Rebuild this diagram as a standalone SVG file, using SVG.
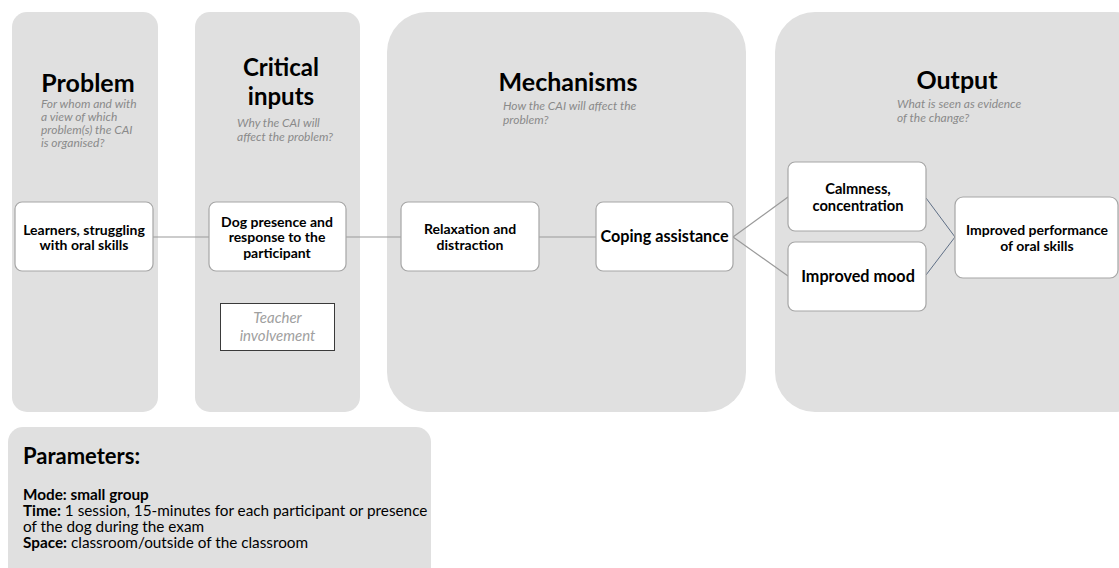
<svg xmlns="http://www.w3.org/2000/svg" width="1119" height="568" viewBox="0 0 1119 568">
<style>
.panel{fill:#e0e0e0;}
.box{fill:#ffffff;stroke:#a6a6a6;stroke-width:1.2;}
.title{font-family:Lato,"Liberation Sans",sans-serif;font-weight:bold;font-size:25px;fill:#000;text-anchor:middle;}
.sub{font-family:Lato,"Liberation Sans",sans-serif;font-style:italic;font-size:12px;fill:#8a8a8a;}
.nt{font-family:Lato,"Liberation Sans",sans-serif;font-weight:bold;font-size:14px;fill:#000;text-anchor:middle;}
.nl{font-family:Lato,"Liberation Sans",sans-serif;font-weight:bold;font-size:16.2px;fill:#000;text-anchor:middle;}
.conn{stroke:#9a9a9a;stroke-width:1.2;fill:none;}
.conn2{stroke:#5f6f86;stroke-width:1;fill:none;}
.pt{font-family:Lato,"Liberation Sans",sans-serif;font-size:15.3px;fill:#000;}
</style>
<g id="panels">
<rect id="panel-problem" class="panel" x="12" y="12" width="146" height="400" rx="15"/>
<rect id="panel-inputs" class="panel" x="195" y="12" width="165" height="400" rx="15"/>
<rect id="panel-mechanisms" class="panel" x="387" y="12" width="359" height="400" rx="40"/>
<rect id="panel-output" class="panel" x="775" y="12" width="380" height="400" rx="40"/>
<rect id="panel-parameters" class="panel" x="8" y="427" width="423" height="160" rx="15"/>
</g>
<g id="headers">
<text class="title" x="88" y="92">Problem</text>
<text class="sub" x="41" y="108">For whom and with</text>
<text class="sub" x="41" y="121">a view of which</text>
<text class="sub" x="41" y="134">problem(s) the CAI</text>
<text class="sub" x="41" y="147">is organised?</text>
<text class="title" x="281" y="76" style="font-size:24px">Critical</text>
<text class="title" x="281" y="105" style="font-size:24px">inputs</text>
<text class="sub" x="237" y="127">Why the CAI will</text>
<text class="sub" x="237" y="141">affect the problem?</text>
<text class="title" x="568" y="91">Mechanisms</text>
<text class="sub" x="503" y="110">How the CAI will affect the</text>
<text class="sub" x="503" y="124">problem?</text>
<text class="title" x="957" y="89">Output</text>
<text class="sub" x="897" y="108">What is seen as evidence</text>
<text class="sub" x="897" y="122">of the change?</text>
</g>
<g id="connectors">
<line class="conn" x1="153" y1="237" x2="209" y2="237"/>
<line class="conn" x1="346" y1="237" x2="401" y2="237"/>
<line class="conn" x1="539" y1="237" x2="596" y2="237"/>
<line class="conn" x1="733" y1="237" x2="788" y2="197"/>
<line class="conn" x1="733" y1="237" x2="788" y2="276"/>
<line class="conn2" x1="926" y1="198" x2="955" y2="237"/>
<line class="conn2" x1="926" y1="275" x2="955" y2="237"/>
</g>
<g id="node-learners">
<rect class="box" x="15" y="202" width="138" height="69" rx="7"/>
<text class="nt" x="84" y="235">Learners, struggling</text>
<text class="nt" x="84" y="250">with oral skills</text>
</g>
<g id="node-dog">
<rect class="box" x="209" y="202" width="137" height="69" rx="7"/>
<text class="nt" x="277" y="227">Dog presence and</text>
<text class="nt" x="277" y="242">response to the</text>
<text class="nt" x="277" y="258">participant</text>
</g>
<g id="node-teacher">
<rect x="220.5" y="303.5" width="114" height="47" fill="#ffffff" stroke="#3a3a3a" stroke-width="1"/>
<text class="nt" x="277.5" y="323" style="font-weight:normal;font-style:italic;fill:#a0a0a0;font-size:15px">Teacher</text>
<text class="nt" x="277.5" y="341" style="font-weight:normal;font-style:italic;fill:#a0a0a0;font-size:15px">involvement</text>
</g>
<g id="node-relaxation">
<rect class="box" x="401" y="202" width="138" height="69" rx="7"/>
<text class="nt" x="470" y="234">Relaxation and</text>
<text class="nt" x="470" y="250">distraction</text>
</g>
<g id="node-coping">
<rect class="box" x="596" y="202" width="137" height="69" rx="7"/>
<text class="nl" x="664.5" y="242">Coping assistance</text>
</g>
<g id="node-calmness">
<rect class="box" x="788" y="162" width="138" height="69" rx="7"/>
<text class="nt" x="858" y="194" style="font-size:14.7px">Calmness,</text>
<text class="nt" x="858" y="211" style="font-size:14.7px">concentration</text>
</g>
<g id="node-mood">
<rect class="box" x="788" y="242" width="138" height="69" rx="7"/>
<text class="nl" x="858" y="282">Improved mood</text>
</g>
<g id="node-performance">
<rect class="box" x="955" y="197" width="163" height="81" rx="8"/>
<text class="nt" x="1037" y="235">Improved performance</text>
<text class="nt" x="1037" y="251">of oral skills</text>
</g>
<g id="parameters">
<text x="23" y="464" style="font-family:Lato,'Liberation Sans',sans-serif;font-weight:bold;font-size:22px;fill:#000;">Parameters:</text>
<text class="pt" x="23" y="500" style="font-weight:bold">Mode: small group</text>
<text class="pt" x="23" y="516"><tspan font-weight="bold">Time:</tspan> 1 session, 15-minutes for each participant or presence</text>
<text class="pt" x="23" y="532">of the dog during the exam</text>
<text class="pt" x="23" y="548"><tspan font-weight="bold">Space:</tspan> classroom/outside of the classroom</text>
</g>
</svg>
